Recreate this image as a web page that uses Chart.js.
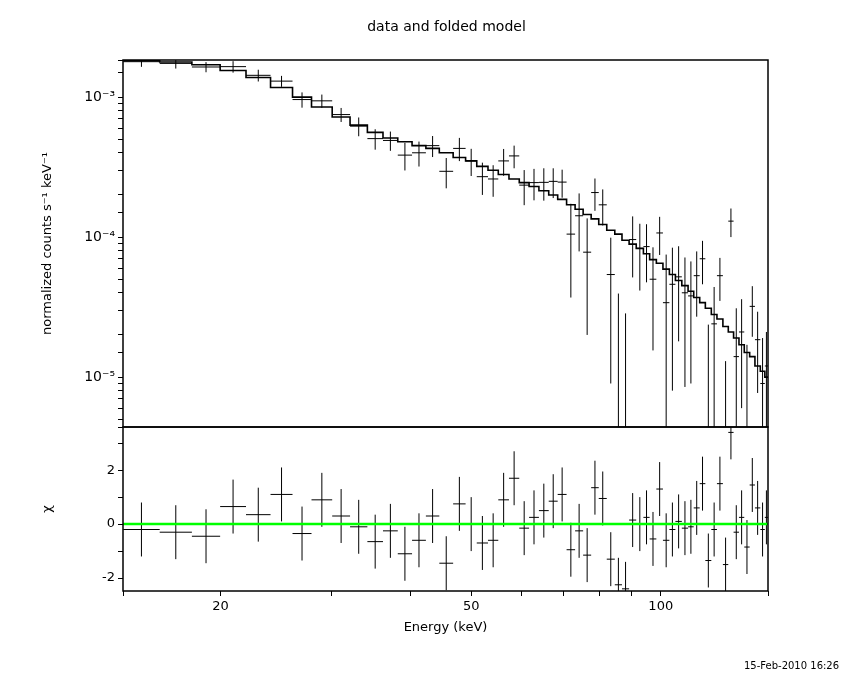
<!DOCTYPE html>
<html>
<head>
<meta charset="utf-8">
<script src="https://cdn.jsdelivr.net/npm/chart.js@4"></script>
<style>
  body { margin: 0; background: #fff; }
  #wrap { position: relative; width: 850px; height: 680px; }
  #title { position: absolute; top: 18px; left: 0; width: 893px; text-align: center;
           font: 14px "DejaVu Sans", sans-serif; color: #000; }
  #stamp { position: absolute; top: 660px; left: 744px; font: 10px "DejaVu Sans", sans-serif; }
</style>
</head>
<body>
<div id="wrap">
  <canvas id="myChart" width="850" height="680"></canvas>
  <div id="title">data and folded model</div>
  <div id="stamp">15-Feb-2010 16:26</div>
</div>
<script>
// bin edges (keV)
const binEdges = [14.01,16.01,18.01,19.97,21.95,24.01,26.02,27.89,30.08,32.11,34.21,36.22,38.23,40.28,42.37,44.50,
  46.81,48.99,51.03,53.17,55.21,57.41,59.61,61.79,64.05,66.39,68.60,70.87,73.11,75.29,77.53,79.71,82.08,84.53,
  86.78,89.07,91.42,93.85,96.01,98.40,100.8,103.2,105.5,108.0,110.5,112.8,115.3,117.7,120.3,122.8,125.5,128.0,
  130.5,133.1,135.7,138.4,141.1,143.9,146.3,148.0];
// folded model, units 1e-4 counts/s/keV
const modelVals = [18.2,17.8,17.0,15.5,13.8,11.7,10.0,8.5,7.2,6.3,5.6,5.1,4.8,4.5,4.3,4.0,3.7,3.5,3.2,3.0,2.8,2.6,
  2.45,2.3,2.14,2.0,1.86,1.70,1.58,1.45,1.35,1.23,1.12,1.05,0.95,0.89,0.83,0.76,0.69,0.65,0.59,0.54,0.49,0.45,
  0.41,0.37,0.34,0.31,0.28,0.26,0.23,0.21,0.19,0.17,0.15,0.14,0.12,0.11,0.10];
// data, units 1e-4
const dataVals = [17.9,17.4,16.4,16.5,14.3,13.0,9.6,9.4,7.5,6.2,5.05,4.9,3.85,4.0,4.5,2.95,4.3,3.5,2.7,2.6,3.5,3.8,
  2.35,2.45,2.46,2.5,2.47,1.05,1.42,0.78,2.08,1.70,0.54,-0.13,-0.19,0.96,0.83,0.855,0.50,1.07,0.34,0.46,0.52,0.40,
  0.38,0.53,0.70,0.017,0.24,0.53,-0.08,1.3,0.14,0.21,0.035,0.32,0.185,0.09,0.12];
const dataErr = [1.46,1.42,1.36,1.55,1.38,1.17,1.2,1.02,0.86,0.95,0.84,0.77,0.86,0.81,0.77,0.72,0.81,0.77,0.70,0.66,
  0.76,0.70,0.66,0.62,0.64,0.6,0.56,0.68,0.63,0.58,0.54,0.49,0.45,0.525,0.475,0.445,0.415,0.38,0.345,0.325,0.41,
  0.38,0.34,0.315,0.29,0.26,0.24,0.22,0.20,0.18,0.21,0.30,0.17,0.15,0.135,0.126,0.108,0.1,0.09];
// residuals (chi)
const chiVals = [-0.2,-0.3,-0.45,0.65,0.35,1.1,-0.35,0.9,0.3,-0.1,-0.65,-0.25,-1.1,-0.6,0.3,-1.45,0.75,0.0,-0.7,-0.6,
  0.9,1.7,-0.15,0.25,0.5,0.85,1.1,-0.95,-0.25,-1.15,1.35,0.95,-1.3,-2.25,-2.4,0.15,0.0,0.25,-0.55,1.3,-0.6,-0.2,
  0.1,-0.15,-0.1,0.6,1.5,-1.35,-0.2,1.5,-1.5,3.4,-0.3,0.25,-0.85,1.45,0.6,-0.2,0.25];
const chiTicks = [-2, -1, 0, 1, 2, 3];

const S = 1e-4, FLOOR = 1e-7;
const gap = (x) => ({x: x, y: null});
const centre = (i) => Math.sqrt(binEdges[i] * binEdges[i + 1]);

const modelPts = [], dataH = [], dataV = [], chiH = [], chiV = [];
modelVals.forEach((m, i) => {
  modelPts.push({x: binEdges[i], y: m * S}, {x: binEdges[i + 1], y: m * S});
  const d = dataVals[i] * S, e = dataErr[i] * S, c = centre(i);
  if (d > 0) dataH.push({x: binEdges[i], y: d}, {x: binEdges[i + 1], y: d}, gap(c));
  dataV.push({x: c, y: Math.max(d - e, FLOOR)}, {x: c, y: d + e}, gap(c));
  chiH.push({x: binEdges[i], y: chiVals[i]}, {x: binEdges[i + 1], y: chiVals[i]}, gap(c));
  chiV.push({x: c, y: chiVals[i] - 1}, {x: c, y: chiVals[i] + 1}, gap(c));
});

const lineDs = (data, axis, color, width) => ({
  data: data, yAxisID: axis, borderColor: color, borderWidth: width,
  pointRadius: 0, spanGaps: false, fill: false, tension: 0
});

// frame box around each panel
const framePlugin = {
  id: 'frame',
  afterDraw(chart) {
    const c = chart.ctx, a = chart.chartArea;
    c.save();
    c.strokeStyle = '#000';
    c.lineWidth = 1.5;
    ['y', 'y2'].forEach(id => {
      const s = chart.scales[id];
      c.strokeRect(a.left, s.top, a.right - a.left, s.bottom - s.top);
    });
    c.restore();
  }
};

const tickFont = {family: 'DejaVu Sans', size: 13};
const sup = {'-3': '10⁻³', '-4': '10⁻⁴', '-5': '10⁻⁵'};

new Chart(document.getElementById('myChart').getContext('2d'), {
  type: 'line',
  data: {
    datasets: [
      lineDs(modelPts, 'y', '#000', 1.6),
      lineDs(dataH, 'y', '#000', 1),
      lineDs(dataV, 'y', '#000', 1),
      lineDs([{x: 14, y: 0}, {x: 148, y: 0}], 'y2', '#00ff00', 2.5),
      lineDs(chiH, 'y2', '#000', 1),
      lineDs(chiV, 'y2', '#000', 1)
    ]
  },
  options: {
    responsive: false,
    animation: false,
    layout: {padding: {top: 60, right: 82, bottom: 45, left: 36}},
    plugins: {legend: {display: false}, tooltip: {enabled: false}},
    scales: {
      x: {
        type: 'logarithmic', min: 14, max: 148,
        grid: {drawOnChartArea: false, color: '#000', tickLength: 5},
        border: {display: false},
        ticks: {
          color: '#000', font: tickFont, autoSkip: false, maxRotation: 0,
          callback: (v) => ([20, 50, 100].includes(v) ? String(v) : '')
        },
        title: {display: true, text: 'Energy (keV)', color: '#000', font: tickFont, padding: 0},
        afterFit: (s) => { s.height = 44; }
      },
      y2: {
        type: 'linear', min: -2.48, max: 3.6,
        stack: 'panels', stackWeight: 164, position: 'left', offset: false,
        grid: {drawOnChartArea: false, color: '#000', tickLength: 5},
        border: {display: false},
        afterBuildTicks: (s) => { s.ticks = chiTicks.map(v => ({value: v})); },
        ticks: {
          color: '#000', font: tickFont, autoSkip: false,
          callback: (v) => (v % 2 === 0 ? String(v) : '')
        },
        title: {display: true, text: 'χ', color: '#000', font: tickFont},
        afterFit: (s) => { s.width = 87; }
      },
      y: {
        type: 'logarithmic', min: 4.4e-6, max: 1.84e-3,
        stack: 'panels', stackWeight: 367, position: 'left', offset: false,
        grid: {drawOnChartArea: false, color: '#000', tickLength: 5},
        border: {display: false},
        ticks: {
          color: '#000', font: {family: 'DejaVu Sans', size: 14}, autoSkip: false,
          callback: (v) => {
            const l = Math.log10(v);
            return Math.abs(l - Math.round(l)) < 1e-6 ? (sup[String(Math.round(l))] || '') : '';
          }
        },
        title: {display: true, text: 'normalized counts s⁻¹ keV⁻¹', color: '#000', font: tickFont},
        afterFit: (s) => { s.width = 87; }
      }
    }
  },
  plugins: [framePlugin]
});
</script>
</body>
</html>
